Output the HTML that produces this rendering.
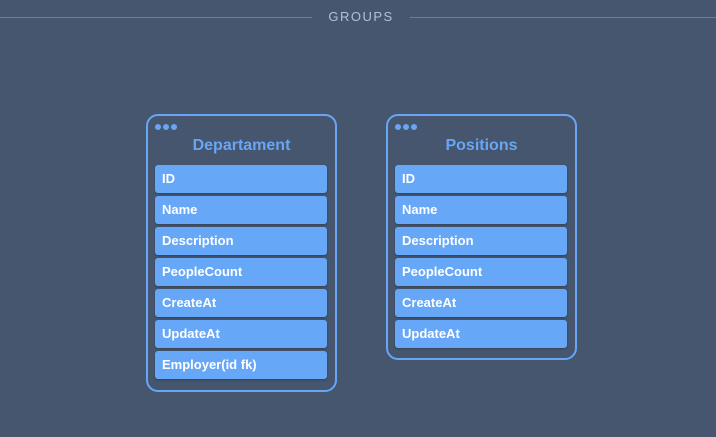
<!DOCTYPE html>
<html><head><style>
body{margin:0;width:716px;height:437px;background:#46566f;position:relative;overflow:hidden;font-family:"Liberation Sans",sans-serif}
.ln{position:absolute;top:17px;height:1px;background:#6b7d98}
.t{position:absolute;top:9px;left:312px;width:98px;text-align:center;color:#b3c0d4;font-size:13px;letter-spacing:1.5px}
.card{position:absolute;border:2px solid #68a6f5;border-radius:12px;width:191px;box-sizing:border-box}
.dot{position:absolute;top:8px;width:6px;height:6px;border-radius:50%;background:#68a6f5}
.h{position:absolute;top:21px;left:0;right:0;text-align:center;color:#68a6f5;font-weight:bold;font-size:16px}
.r{position:absolute;left:7px;width:172px;height:28px;background:#67a7f8;border-radius:3px;color:#fff;font-size:13px;font-weight:bold;line-height:28px;text-indent:7px;box-shadow:0 1px 2px rgba(0,0,0,.25)}
</style></head><body>
<div class="ln" style="left:0;width:312px"></div>
<div class="ln" style="left:410px;width:306px"></div>
<div class="t">GROUPS</div>

<div class="card" style="left:146px;top:114px;height:278px">
<div class="dot" style="left:7px"></div><div class="dot" style="left:15px"></div><div class="dot" style="left:23px"></div>
<div class="h">Departament</div>
<div class="r" style="top:49px">ID</div>
<div class="r" style="top:80px">Name</div>
<div class="r" style="top:111px">Description</div>
<div class="r" style="top:142px">PeopleCount</div>
<div class="r" style="top:173px">CreateAt</div>
<div class="r" style="top:204px">UpdateAt</div>
<div class="r" style="top:235px">Employer(id fk)</div>
</div>

<div class="card" style="left:386px;top:114px;height:246px">
<div class="dot" style="left:7px"></div><div class="dot" style="left:15px"></div><div class="dot" style="left:23px"></div>
<div class="h">Positions</div>
<div class="r" style="top:49px">ID</div>
<div class="r" style="top:80px">Name</div>
<div class="r" style="top:111px">Description</div>
<div class="r" style="top:142px">PeopleCount</div>
<div class="r" style="top:173px">CreateAt</div>
<div class="r" style="top:204px">UpdateAt</div>
</div>
</body></html>
